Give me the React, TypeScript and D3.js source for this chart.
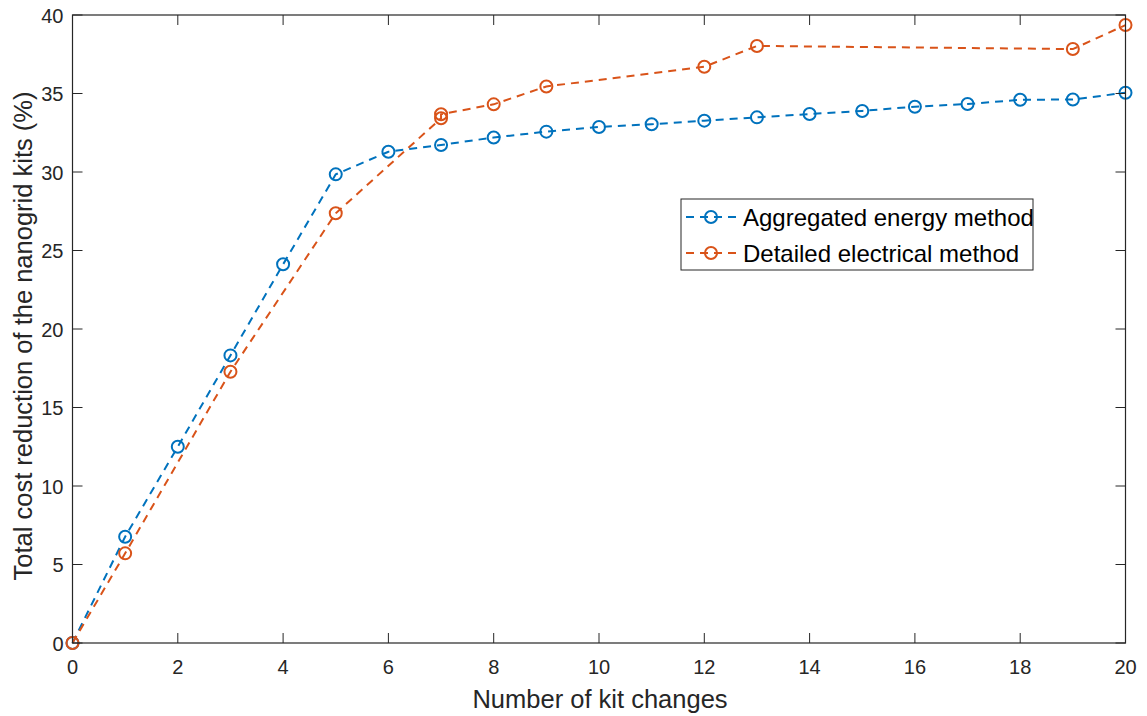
import React from "react";
import * as d3 from "d3";

const aggX = [0, 1, 2, 3, 4, 5, 6, 7, 8, 9, 10, 11, 12, 13, 14, 15, 16, 17, 18, 19, 20];
const aggY = [0, 6.77, 12.5, 18.32, 24.12, 29.85, 31.29, 31.72, 32.2, 32.57, 32.87, 33.04, 33.27, 33.48, 33.69, 33.89, 34.16, 34.33, 34.6, 34.62, 35.05];
const detX = [0, 1, 3, 5, 7, 7, 8, 9, 12, 13, 19, 20];
const detY = [0, 5.71, 17.28, 27.37, 33.42, 33.68, 34.31, 35.45, 36.7, 38.03, 37.83, 39.36];
const xTicks = [0, 2, 4, 6, 8, 10, 12, 14, 16, 18, 20];
const yTicks = [0, 5, 10, 15, 20, 25, 30, 35, 40];
const seriesNames = ["Aggregated energy method", "Detailed electrical method"];
const seriesColors = ["#0072BD", "#D95319"];

const W = 1147, H = 716;
const L = 72.5, R = 1125.5, T = 15, B = 643;
const axisColor = "#262626";
const font = "'Liberation Sans', Arial, Helvetica, sans-serif";

export default function App() {
  const x = d3.scaleLinear().domain([0, 20]).range([L, R]);
  const y = d3.scaleLinear().domain([0, 40]).range([B, T]);
  const line = d3.line<[number, number]>().x(d => x(d[0])).y(d => y(d[1]));
  const series = [
    aggX.map((v, i) => [v, aggY[i]] as [number, number]),
    detX.map((v, i) => [v, detY[i]] as [number, number]),
  ];
  const tickLen = 10;
  return (
    <div style={{ position: "fixed", left: 0, top: 0 }}>
      <svg width={W} height={H} style={{ display: "block", background: "#fff" }}>
        {series.map((s, si) => (
          <g key={si}>
            <path d={line(s) || ""} fill="none" stroke={seriesColors[si]} strokeWidth={2} strokeDasharray="8,6" />
            {s.map((p, i) => (
              <circle key={i} cx={x(p[0])} cy={y(p[1])} r={6} fill="none" stroke={seriesColors[si]} strokeWidth={2} />
            ))}
          </g>
        ))}
        <rect x={L} y={T} width={R - L} height={B - T} fill="none" stroke={axisColor} strokeWidth={1.2} />
        {xTicks.map(t => (
          <g key={"x" + t}>
            <line x1={x(t)} x2={x(t)} y1={B} y2={B - tickLen} stroke={axisColor} strokeWidth={1} />
            <line x1={x(t)} x2={x(t)} y1={T} y2={T + tickLen} stroke={axisColor} strokeWidth={1} />
            <text x={x(t)} y={B + 31} textAnchor="middle" fontFamily={font} fontSize={20} fill={axisColor}>{t}</text>
          </g>
        ))}
        {yTicks.map(t => (
          <g key={"y" + t}>
            <line x1={L} x2={L + tickLen} y1={y(t)} y2={y(t)} stroke={axisColor} strokeWidth={1} />
            <line x1={R} x2={R - tickLen} y1={y(t)} y2={y(t)} stroke={axisColor} strokeWidth={1} />
            <text x={L - 9} y={y(t) + 7.5} textAnchor="end" fontFamily={font} fontSize={20} fill={axisColor}>{t}</text>
          </g>
        ))}
        <text x={600} y={708} textAnchor="middle" fontFamily={font} fontSize={25.5} fill={axisColor}>Number of kit changes</text>
        <text transform={`translate(32,336) rotate(-90)`} textAnchor="middle" fontFamily={font} fontSize={25.5} fill={axisColor}>Total cost reduction of the nanogrid kits (%)</text>
        <rect x={681} y={199} width={352} height={71} fill="#fff" stroke={axisColor} strokeWidth={1} />
        {seriesNames.map((n, i) => {
          const ly = 217 + i * 36;
          return (
            <g key={n}>
              <line x1={686} x2={738} y1={ly} y2={ly} stroke={seriesColors[i]} strokeWidth={2} strokeDasharray="8,6" />
              <circle cx={711} cy={ly} r={6} fill="none" stroke={seriesColors[i]} strokeWidth={2} />
              <text x={743} y={ly + 8.5} fontFamily={font} fontSize={24} fill="#000">{n}</text>
            </g>
          );
        })}
      </svg>
    </div>
  );
}
